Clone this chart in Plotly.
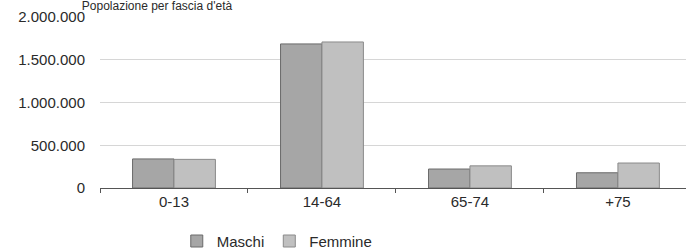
import plotly.graph_objects as go

categories = ["0-13", "14-64", "65-74", "+75"]
maschi = [340000, 1685000, 222000, 178000]
femmine = [335000, 1708000, 259000, 292000]
title_text = "Popolazione per fascia d'età"

fig = go.Figure()
fig.add_trace(go.Bar(name="Maschi", x=categories, y=maschi,
                     marker=dict(color="#a6a6a6", line=dict(color="#6a6a6a", width=1))))
fig.add_trace(go.Bar(name="Femmine", x=categories, y=femmine,
                     marker=dict(color="#c0c0c0", line=dict(color="#8a8a8a", width=1))))

fig.update_layout(
    width=686, height=249,
    margin=dict(l=100, r=0, t=17, b=61, autoexpand=False),
    paper_bgcolor="white", plot_bgcolor="white",
    barmode="group", bargap=0.44, bargroupgap=0,
    separators=",.",
    font=dict(family="Liberation Sans, Arial", size=15, color="#2a2a2a"),
    showlegend=True,
    legend=dict(orientation="h", x=0.131, xanchor="left", y=-0.215, yanchor="top",
                font=dict(size=15), itemwidth=30, tracegroupgap=0),
    title=dict(text=title_text, x=157/686, xanchor="center", xref="container",
               y=0.995, yanchor="top", yref="container", pad=dict(t=0, b=0),
               font=dict(size=12, color="#2a2a2a")),
)
fig.update_xaxes(range=[-0.5, 3.46], showline=True, linecolor="#555555", linewidth=1,
                 ticks="outside", tickson="boundaries", ticklen=4, tickcolor="#555555",
                 showgrid=False, tickfont=dict(size=15))
fig.update_yaxes(range=[0, 2000000], tickvals=[0, 500000, 1000000, 1500000, 2000000],
                 tickformat=",d", showgrid=True, gridcolor="#d6d6d6", gridwidth=1,
                 zeroline=False, showline=False, ticklabelstandoff=14,
                 tickfont=dict(size=15))

fig.write_html("out.html", config={"displayModeBar": False},
               post_script="document.body.style.margin='0';document.body.style.overflow='hidden';")
